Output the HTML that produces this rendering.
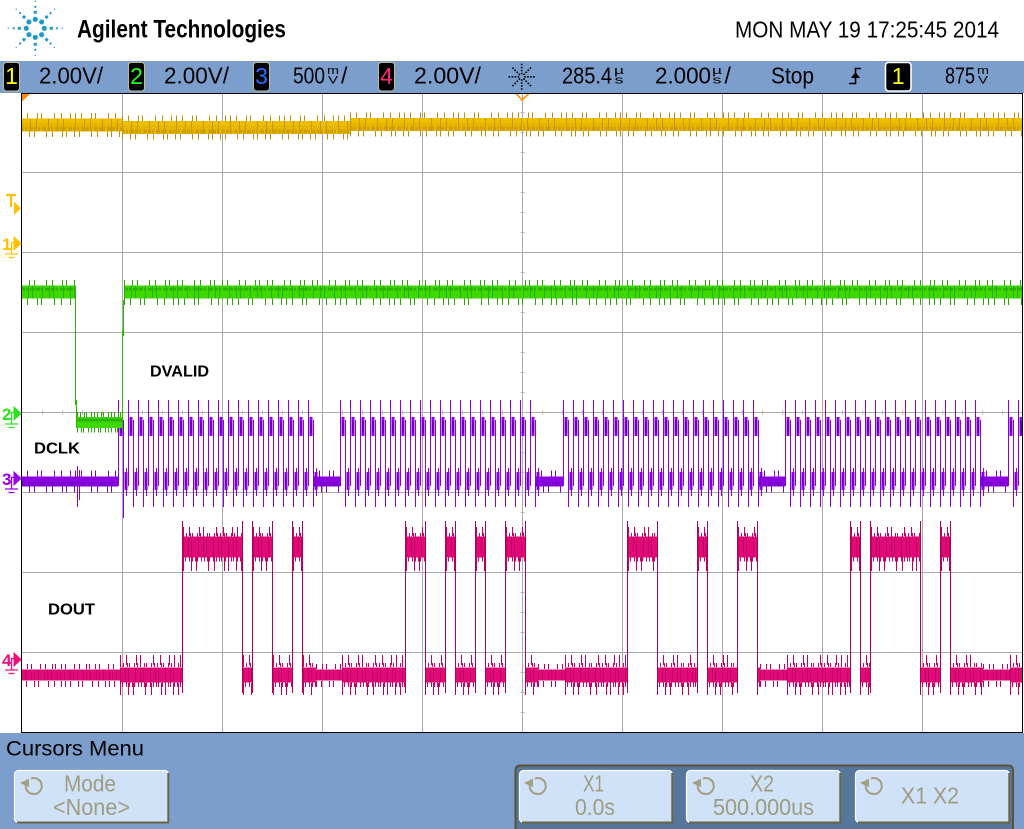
<!DOCTYPE html>
<html><head><meta charset="utf-8"><title>Agilent scope capture</title>
<style>
html,body{margin:0;padding:0;background:#fff;overflow:hidden}
svg{display:block}
text{font-family:"Liberation Sans",Arial,sans-serif}
</style></head><body>
<svg xmlns="http://www.w3.org/2000/svg" width="1024" height="829" viewBox="0 0 1024 829">
<defs>
<clipPath id="clp"><rect x="22" y="94" width="1000" height="638"/></clipPath>
<g id="arm" fill="#1f9ac6">
<circle cx="9" cy="0" r="2.6"/>
<rect x="14.5" y="-1.5" width="3" height="3"/>
<rect x="20.5" y="-1" width="2" height="2"/>
<rect x="26.4" y="-0.6" width="1.2" height="1.2"/>
</g>
<g id="rot">
<path d="M-8 -2A8 8 0 1 0 -3 -7.5" fill="none" stroke="#a29f82" stroke-width="2"/>
<path d="M-14 -3L-5 -7.5L-5 1Z" fill="#a29f82"/>
</g>
<g id="per">
<rect x="1.5" y="417" width="3" height="19" fill="#8a06e2"/>
<rect x="2" y="421" width="2" height="12" fill="#6c00b4"/>
<rect x="6.5" y="472" width="3" height="18" fill="#8a06e2"/>
<rect x="7" y="476" width="2" height="10" fill="#6c00b4"/>
<path d="M0.5 486V400M5.5 420V507M8.5 468V496" stroke="#8a00e4" fill="none"/>
</g>
<g id="burst">
<use href="#per" x="0"/><use href="#per" x="10"/><use href="#per" x="20"/><use href="#per" x="30"/><use href="#per" x="40"/>
<use href="#per" x="50"/><use href="#per" x="60"/><use href="#per" x="70"/><use href="#per" x="80"/><use href="#per" x="90"/>
<use href="#per" x="100"/><use href="#per" x="110"/><use href="#per" x="120"/><use href="#per" x="130"/><use href="#per" x="140"/>
<use href="#per" x="150"/><use href="#per" x="160"/><use href="#per" x="170"/><use href="#per" x="180"/><use href="#per" x="190"/>
</g>
<path id="c1" d="M21 0H122M122 2.5H350M350 -0.5H1022"/>
<path id="c2h" d="M21 0H76M124 0H1022"/>
<path id="c2l" d="M77 0H122"/>
<path id="c3i" d="M21 0H118M313 0H340M535 0H563M758 0H785M980 0H1008"/>
<path id="c4h" d="M183 0H243M253 0H273M293 0H303M406 0H425M446 0H455M476 0H485M506 0H525M628 0H657M698 0H707M738 0H757M851 0H860M871 0H920M941 0H950"/>
<path id="c4n" d="M120 0H183M243 0H253M273 0H293M303 0H316M342 0H405M425 0H445M455 0H475M485 0H505M525 0H538M565 0H627M657 0H697M707 0H737M757 0H760M787 0H850M860 0H870M920 0H940M950 0H983M1010 0H1022"/>
<path id="c4q" d="M21 0H120M316 0H342M538 0H565M760 0H787M983 0H1010"/>
<g id="mk">
<path d="M-7 -6.5L0 0L-7 6.5Z"/>
<path d="M-7 -1H-9.5V10.5M-16 10.5H-3M-12.5 14H-6.5" fill="none" stroke-width="1.3"/>
</g>
</defs>

<!-- header -->
<rect x="0" y="0" width="1024" height="61" fill="#fff"/>
<g transform="translate(35.3,28.3)">
<use href="#arm"/><use href="#arm" transform="rotate(45)"/><use href="#arm" transform="rotate(90)"/><use href="#arm" transform="rotate(135)"/>
<use href="#arm" transform="rotate(180)"/><use href="#arm" transform="rotate(225)"/><use href="#arm" transform="rotate(270)"/><use href="#arm" transform="rotate(315)"/>
</g>
<text x="77" y="37.5" font-size="25" font-weight="bold" textLength="209" lengthAdjust="spacingAndGlyphs" fill="#000">Agilent Technologies</text>
<text x="735" y="37.5" font-size="23.5" textLength="264" lengthAdjust="spacingAndGlyphs" fill="#000">MON MAY 19 17:25:45 2014</text>

<!-- status bar -->
<rect x="0" y="61" width="1024" height="32" fill="#7b9ecd"/>
<g font-size="23">
<rect x="3.5" y="62.5" width="16" height="28.5" rx="3" fill="#000" stroke="#c2ba90"/>
<text x="11.5" y="84" text-anchor="middle" fill="#ffff00">1</text>
<text x="39" y="83.5" textLength="64" lengthAdjust="spacingAndGlyphs">2.00V/</text>
<rect x="128.5" y="62.5" width="16" height="28.5" rx="3" fill="#000" stroke="#c2ba90"/>
<text x="136.5" y="84" text-anchor="middle" fill="#22ff22">2</text>
<text x="164" y="83.5" textLength="65" lengthAdjust="spacingAndGlyphs">2.00V/</text>
<rect x="253.5" y="62.5" width="16" height="28.5" rx="3" fill="#000" stroke="#c2ba90"/>
<text x="261.5" y="84" text-anchor="middle" fill="#2a6cff">3</text>
<text x="293" y="83.5" textLength="32" lengthAdjust="spacingAndGlyphs">500</text>
<text x="327" y="74" font-size="11" textLength="12" lengthAdjust="spacingAndGlyphs">m</text>
<text x="328" y="83.5" font-size="11" textLength="10" lengthAdjust="spacingAndGlyphs">V</text>
<text x="341" y="83.5">/</text>
<rect x="378.5" y="62.5" width="16" height="28.5" rx="3" fill="#000" stroke="#c2ba90"/>
<text x="386.5" y="84" text-anchor="middle" fill="#ff2670">4</text>
<text x="414" y="83.5" textLength="67" lengthAdjust="spacingAndGlyphs">2.00V/</text>
<g transform="translate(521.7,76.8)" stroke="#000" stroke-width="1.6" stroke-dasharray="1.6 1.4">
<path d="M0 -2.5V-13M0 2.5V13M-2.5 0H-13.5M2.5 0H13.5M1.8 -1.8L9.4 -9.4M-1.8 -1.8L-9.4 -9.4M1.8 1.8L9.4 9.4M-1.8 1.8L-9.4 9.4"/>
</g>
<text x="562" y="83.5" textLength="50" lengthAdjust="spacingAndGlyphs">285.4</text>
<text x="614" y="74" font-size="11" textLength="10" lengthAdjust="spacingAndGlyphs">µ</text>
<text x="614.5" y="83.5" font-size="11" textLength="9" lengthAdjust="spacingAndGlyphs">s</text>
<text x="655" y="83.5" textLength="56" lengthAdjust="spacingAndGlyphs">2.000</text>
<text x="712" y="74" font-size="11" textLength="10" lengthAdjust="spacingAndGlyphs">µ</text>
<text x="712.5" y="83.5" font-size="11" textLength="9" lengthAdjust="spacingAndGlyphs">s</text>
<text x="724.5" y="83.5">/</text>
<text x="771" y="83.5" textLength="43" lengthAdjust="spacingAndGlyphs">Stop</text>
<path d="M849 83.5H855.5V68.5H861" fill="none" stroke="#000" stroke-width="1.6"/>
<path d="M851 78L855.5 72L860 78Z" fill="#000"/>
<rect x="885.5" y="62.5" width="25.5" height="28.5" rx="3" fill="#000" stroke="#fff" stroke-width="1.6"/>
<text x="898.2" y="84" text-anchor="middle" fill="#ffff00">1</text>
<text x="945" y="83.5" textLength="30" lengthAdjust="spacingAndGlyphs">875</text>
<text x="977" y="74" font-size="11" textLength="12" lengthAdjust="spacingAndGlyphs">m</text>
<text x="978" y="83.5" font-size="11" textLength="10" lengthAdjust="spacingAndGlyphs">V</text>
</g>

<!-- plot area -->
<rect x="22" y="94" width="1000" height="638" fill="#fff"/>
<path d="M122.5 94V732M222.5 94V732M322.5 94V732M422.5 94V732M522.5 94V732M622.5 94V732M722.5 94V732M822.5 94V732M922.5 94V732M22 172.5H1022M22 252.5H1022M22 332.5H1022M22 412.5H1022M22 492.5H1022M22 572.5H1022M22 652.5H1022" stroke="#a9a9a9" stroke-width="1" fill="none"/>
<path d="M42 412.5H1022" stroke="#b4b4b4" stroke-width="4" stroke-dasharray="1 19"/>
<path d="M522.5 112V732" stroke="#b4b4b4" stroke-width="4" stroke-dasharray="1 19"/>

<g clip-path="url(#clp)" fill="none">
<!-- CH4 DOUT -->
<use href="#c4q" y="666.5" stroke="#c4005e" stroke-width="5" stroke-dasharray="1 5 1 3 1 8 1 4 1 6 1 2"/>
<use href="#c4q" y="684" stroke="#c4005e" stroke-width="6" stroke-dasharray="1 4 1 7 1 3 1 9 1 5 1 6 1 3"/>
<use href="#c4q" y="675" stroke="#e00a78" stroke-width="11"/>
<use href="#c4q" y="675" stroke="#c80062" stroke-width="11" stroke-dasharray="1 3 1 5 1 2"/>
<use href="#c4n" y="660" stroke="#c4005e" stroke-width="10" stroke-dasharray="1 5 1 9 1 3 1 12 1 6 1 8 1 4"/>
<use href="#c4n" y="665" stroke="#d0006a" stroke-width="4" stroke-dasharray="1 2 1 3 1 1 1 4 1 2"/>
<use href="#c4n" y="689" stroke="#c4005e" stroke-width="12" stroke-dasharray="1 7 1 4 1 11 1 5 1 9 1 3"/>
<use href="#c4n" y="684.5" stroke="#d0006a" stroke-width="5" stroke-dasharray="1 1 1 3 1 2 1 2"/>
<use href="#c4n" y="675" stroke="#e00a78" stroke-width="15"/>
<use href="#c4n" y="675" stroke="#c40062" stroke-width="15" stroke-dasharray="1 4 1 2 1 6"/>
<use href="#c4h" y="531.5" stroke="#c4005e" stroke-width="9" stroke-dasharray="1 5 1 9 1 3 1 12 1 6 1 8 1 4"/>
<use href="#c4h" y="535" stroke="#d0006a" stroke-width="4" stroke-dasharray="1 2 1 3 1 1 1 4 1 2"/>
<use href="#c4h" y="564" stroke="#c4005e" stroke-width="14" stroke-dasharray="1 7 1 4 1 11 1 5 1 9 1 3"/>
<use href="#c4h" y="559" stroke="#d0006a" stroke-width="5" stroke-dasharray="1 1 1 3 1 2 1 2"/>
<use href="#c4h" y="547" stroke="#e00a78" stroke-width="21"/>
<use href="#c4h" y="547" stroke="#c40062" stroke-width="21" stroke-dasharray="1 4 1 2 1 6"/>
<path d="M182.5 521V693M242.5 521V693M252.5 521V693M272.5 521V693M292.5 521V693M302.5 521V693M405.5 521V693M425.5 521V693M445.5 521V693M455.5 521V693M475.5 521V693M485.5 521V693M505.5 521V693M525.5 521V693M627.5 521V693M657.5 521V693M697.5 521V693M707.5 521V693M737.5 521V693M757.5 521V693M850.5 521V693M860.5 521V693M870.5 521V693M920.5 521V693M940.5 521V693M950.5 521V693" stroke="#b0005a" stroke-width="1"/>

<!-- CH3 DCLK -->
<use href="#c3i" y="473.5" stroke="#7a00c8" stroke-width="6" stroke-dasharray="1 5 1 9 1 3 1 12 1 6 1 8 1 4"/>
<use href="#c3i" y="489.5" stroke="#7a00c8" stroke-width="6" stroke-dasharray="1 7 1 4 1 11 1 5 1 9 1 3"/>
<use href="#c3i" y="481.5" stroke="#8a00e0" stroke-width="10"/>
<use href="#c3i" y="484" stroke="#7000c0" stroke-width="4" stroke-dasharray="2 1 1 3 1 2"/>
<use href="#burst" x="118"/>
<use href="#burst" x="340"/>
<use href="#burst" x="563"/>
<use href="#burst" x="785"/>
<use href="#burst" x="1008"/>
<path d="M77.5 466V507M79.5 470V500M123.5 470V518" stroke="#8a00e0" stroke-width="1"/>

<!-- CH2 DVALID -->
<use href="#c2h" y="283" stroke="#26a800" stroke-width="6" stroke-dasharray="1 7 1 4 1 11 1 5 1 9 1 3"/>
<use href="#c2h" y="301.5" stroke="#26a800" stroke-width="7" stroke-dasharray="1 5 1 9 1 3 1 12 1 6 1 8 1 4"/>
<use href="#c2h" y="292" stroke="#3cd800" stroke-width="13"/>
<use href="#c2h" y="289" stroke="#2cb400" stroke-width="3" stroke-dasharray="4 1 2 2 5 1"/>
<use href="#c2h" y="292" stroke="#28b000" stroke-width="13" stroke-dasharray="1 6 1 3 1 9"/>
<use href="#c2l" y="414.5" stroke="#26a800" stroke-width="5" stroke-dasharray="1 2 1 3 1 1 1 4 1 2"/>
<use href="#c2l" y="430" stroke="#26a800" stroke-width="5" stroke-dasharray="1 3 1 1 1 4 1 2 1 2"/>
<use href="#c2l" y="422.5" stroke="#3cd800" stroke-width="11"/>
<use href="#c2l" y="420" stroke="#2cb400" stroke-width="3"/>
<path d="M75.5 292V405M76.5 400V428M122.5 432V330M123.5 336V300" stroke="#28b800" stroke-width="1"/>

<!-- CH1 -->
<use href="#c1" y="116" stroke="#b89000" stroke-width="6" stroke-dasharray="1 5 1 9 1 3 1 12 1 6 1 8 1 4"/>
<use href="#c1" y="134" stroke="#b89000" stroke-width="6" stroke-dasharray="1 7 1 4 1 11 1 5 1 9 1 3"/>
<use href="#c1" y="125" stroke="#e6b600" stroke-width="13"/>
<use href="#c1" y="121" stroke="#f0c000" stroke-width="4"/>
<use href="#c1" y="129" stroke="#d2a000" stroke-width="4" stroke-dasharray="3 1 2 2 4 1"/>
<use href="#c1" y="125" stroke="#c49a00" stroke-width="13" stroke-dasharray="1 8 1 5 1 11"/>
</g>

<!-- markers in plot -->
<path d="M22 94H30L22 101.5Z" fill="#ff8c00"/>
<path d="M516 93.5L522 100L529 93.5" fill="none" stroke="#ff8c00" stroke-width="1.6"/>

<!-- labels -->
<g font-size="16" font-weight="bold" fill="#000">
<text x="150" y="376.7" textLength="59" lengthAdjust="spacingAndGlyphs">DVALID</text>
<text x="34" y="453.3" textLength="46" lengthAdjust="spacingAndGlyphs">DCLK</text>
<text x="48" y="614.3" textLength="47" lengthAdjust="spacingAndGlyphs">DOUT</text>
</g>

<!-- plot border -->
<path d="M21.5 93V733M21 93.5H1023M21 732.5H1023M1022.5 93V733" stroke="#000" stroke-width="1" fill="none"/>

<!-- left markers -->
<g fill="#ffc000" stroke="#ffc000">
<path d="M6 195H16M11 195V207" stroke-width="2.2" fill="none"/>
<path d="M14 201.7L21 208.3L14 215Z" stroke="none"/>
</g>
<use href="#mk" x="21" y="243.5" fill="#ffc000" stroke="#ffc000"/>
<text x="2" y="250" font-size="17" font-weight="bold" fill="#ffc000">1</text>
<use href="#mk" x="21" y="413.5" fill="#2de020" stroke="#2de020"/>
<text x="2" y="420" font-size="17" font-weight="bold" fill="#2de020">2</text>
<use href="#mk" x="21" y="478.5" fill="#9a00ee" stroke="#9a00ee"/>
<text x="2" y="485" font-size="17" font-weight="bold" fill="#9a00ee">3</text>
<use href="#mk" x="21" y="659.5" fill="#f01080" stroke="#f01080"/>
<text x="2" y="666" font-size="17" font-weight="bold" fill="#f01080">4</text>

<!-- menu area -->
<rect x="0" y="733" width="1024" height="96" fill="#7b9ecd"/>
<text x="6" y="755.5" font-size="21.5" textLength="138" lengthAdjust="spacingAndGlyphs" fill="#000">Cursors Menu</text>

<!-- Mode button -->
<rect x="14.5" y="770.5" width="154" height="52" rx="4" fill="#d0e2f8" stroke="#ffffff" stroke-width="1.2"/>
<path d="M168.3 773V822.5H17" fill="none" stroke="#6b6440" stroke-width="2"/>
<use href="#rot" x="34" y="786"/>
<text x="64" y="791.5" font-size="23" textLength="52" lengthAdjust="spacingAndGlyphs" fill="#9e9c80">Mode</text>
<text x="53" y="815" font-size="23" textLength="77" lengthAdjust="spacingAndGlyphs" fill="#9e9c80">&lt;None&gt;</text>

<!-- right group -->
<path d="M515.5 840V770.5Q515.5 765.5 520.5 765.5H1008Q1013 765.5 1013 770.5V840" fill="#56769c" stroke="#5a5230" stroke-width="2"/>
<rect x="519.5" y="770.5" width="153" height="52" rx="4" fill="#d0e2f8" stroke="#ffffff" stroke-width="1.2"/>
<path d="M672.3 773V822.5H522" fill="none" stroke="#6b6440" stroke-width="2"/>
<rect x="686.5" y="770.5" width="154" height="52" rx="4" fill="#d0e2f8" stroke="#ffffff" stroke-width="1.2"/>
<path d="M840.3 773V822.5H689" fill="none" stroke="#6b6440" stroke-width="2"/>
<rect x="855.5" y="770.5" width="154" height="52" rx="4" fill="#d0e2f8" stroke="#ffffff" stroke-width="1.2"/>
<path d="M1009.3 773V822.5H858" fill="none" stroke="#6b6440" stroke-width="2"/>
<use href="#rot" x="538" y="786"/>
<use href="#rot" x="706" y="786"/>
<use href="#rot" x="874" y="786"/>
<g font-size="23" fill="#9e9c80">
<text x="583" y="791.5" textLength="21" lengthAdjust="spacingAndGlyphs">X1</text>
<text x="575" y="815" textLength="40" lengthAdjust="spacingAndGlyphs">0.0s</text>
<text x="750" y="791.5" textLength="24" lengthAdjust="spacingAndGlyphs">X2</text>
<text x="713" y="815" textLength="101" lengthAdjust="spacingAndGlyphs">500.000us</text>
<text x="901" y="803.5" textLength="58" lengthAdjust="spacingAndGlyphs">X1 X2</text>
</g>
</svg>
</body></html>
